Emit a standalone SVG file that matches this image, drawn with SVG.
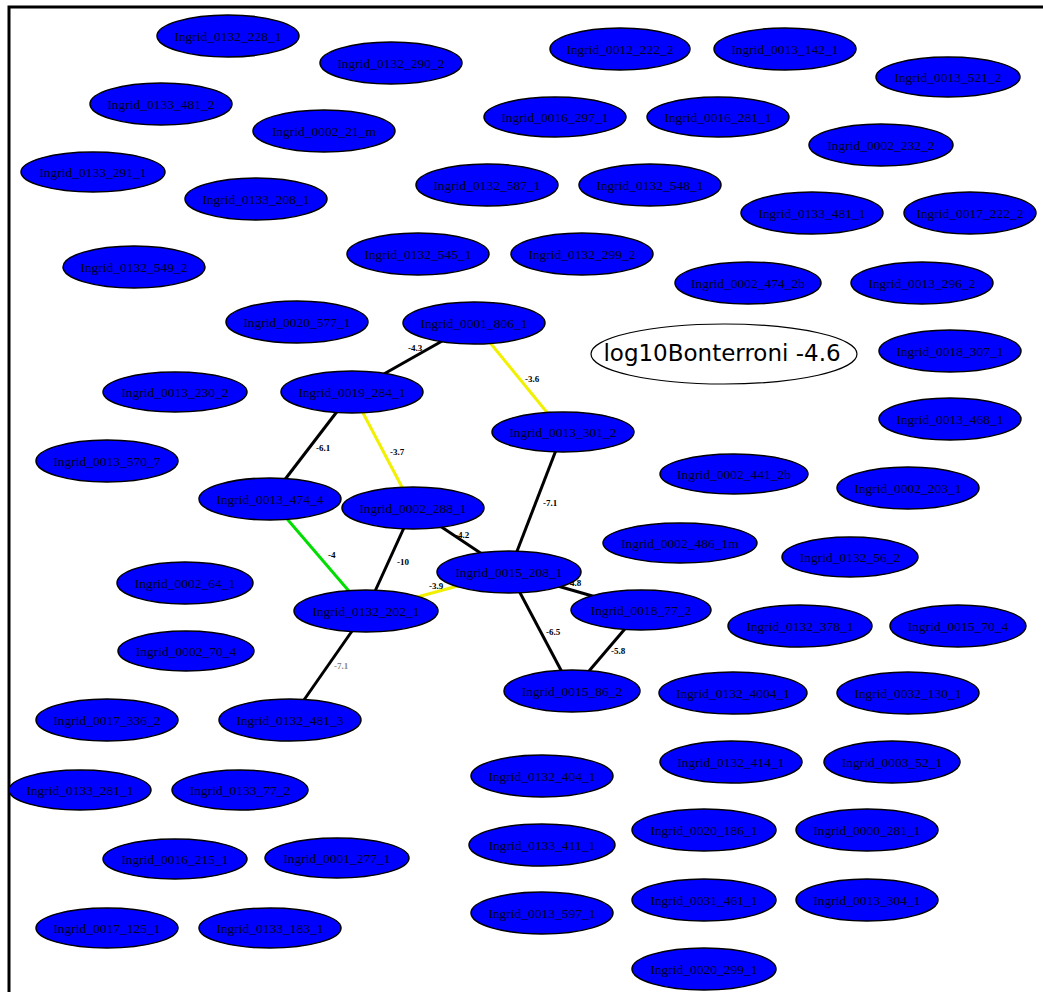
<svg xmlns="http://www.w3.org/2000/svg" width="1043" height="992" viewBox="0 0 1043 992">
  <style>
    .node ellipse { fill: #0000ff; stroke: #000000; stroke-width: 1.5; }
    .node text { font-family: "Liberation Serif", "Times New Roman", serif; font-size: 13.5px; fill: #000022; text-anchor: middle; dominant-baseline: central; }
    .edge { stroke-width: 3; fill: none; }
    .black { stroke: #000000; }
    .yellow { stroke: #f0f000; }
    .green { stroke: #00dd00; }
    .elabel { font-family: "Liberation Serif", "Times New Roman", serif; font-size: 9px; font-weight: bold; fill: #000000; }
    .legend ellipse { fill: #ffffff; stroke: #000000; stroke-width: 1.2; }
    .legend text { font-family: "DejaVu Sans", "Liberation Sans", sans-serif; font-size: 23px; fill: #000000; text-anchor: middle; dominant-baseline: central; }
  </style>

  <rect x="0" y="0" width="1043" height="992" fill="#ffffff"/>
  <!-- frame -->
  <path d="M9,992 V7 H1043" fill="none" stroke="#000000" stroke-width="3"/>

  <!-- connectors -->
  <g id="connectors">
    <line class="edge black" x1="474" y1="323" x2="352" y2="392"/>
    <line class="edge yellow" x1="474" y1="323" x2="563" y2="432"/>
    <line class="edge yellow" x1="352" y1="392" x2="413" y2="508"/>
    <line class="edge black" x1="352" y1="392" x2="270" y2="499"/>
    <line class="edge black" x1="563" y1="432" x2="509" y2="572"/>
    <line class="edge black" x1="413" y1="508" x2="509" y2="572"/>
    <line class="edge black" x1="413" y1="508" x2="366" y2="611"/>
    <line class="edge green" x1="270" y1="499" x2="366" y2="611"/>
    <line class="edge yellow" x1="509" y1="572" x2="366" y2="611"/>
    <line class="edge black" x1="509" y1="572" x2="641" y2="610"/>
    <line class="edge black" x1="509" y1="572" x2="572" y2="691"/>
    <line class="edge black" x1="641" y1="610" x2="572" y2="691"/>
    <line class="edge black" x1="366" y1="611" x2="290" y2="720"/>

    <text class="elabel" x="408" y="351">-4.3</text>
    <text class="elabel" x="525" y="382">-3.6</text>
    <text class="elabel" x="316" y="451">-6.1</text>
    <text class="elabel" x="390" y="455">-3.7</text>
    <text class="elabel" x="543" y="506">-7.1</text>
    <text class="elabel" x="455" y="538">-4.2</text>
    <text class="elabel" x="397" y="565">-10</text>
    <text class="elabel" x="328" y="558">-4</text>
    <text class="elabel" x="429" y="589">-3.9</text>
    <text class="elabel" x="567" y="586">-4.8</text>
    <text class="elabel" x="546" y="635">-6.5</text>
    <text class="elabel" x="611" y="654">-5.8</text>
    <text class="elabel" x="334" y="669" style="fill:#888888">-7.1</text>
  </g>

  <!-- legend -->
  <g id="legend" class="legend">
    <ellipse cx="724" cy="354" rx="133" ry="30"/>
    <text x="722" y="353">log10Bonterroni -4.6</text>
  </g>

  <!-- nodes -->
  <g id="n1" class="node"><ellipse cx="228" cy="36" rx="71" ry="21"/><text x="228" y="36">Ingrid_0132_228_1</text></g>
  <g id="n2" class="node"><ellipse cx="391" cy="63" rx="71" ry="21"/><text x="391" y="63">Ingrid_0132_290_2</text></g>
  <g id="n3" class="node"><ellipse cx="620" cy="49" rx="70" ry="21"/><text x="620" y="49">Ingrid_0012_222_2</text></g>
  <g id="n4" class="node"><ellipse cx="785" cy="49" rx="71" ry="21"/><text x="785" y="49">Ingrid_0013_142_1</text></g>
  <g id="n5" class="node"><ellipse cx="948" cy="77" rx="72" ry="20"/><text x="948" y="77">Ingrid_0013_521_2</text></g>
  <g id="n6" class="node"><ellipse cx="161" cy="104" rx="71" ry="21"/><text x="161" y="104">Ingrid_0133_481_2</text></g>
  <g id="n7" class="node"><ellipse cx="324" cy="131" rx="71" ry="21"/><text x="324" y="131">Ingrid_0002_21_m</text></g>
  <g id="n8" class="node"><ellipse cx="555" cy="117" rx="71" ry="20"/><text x="555" y="117">Ingrid_0016_297_1</text></g>
  <g id="n9" class="node"><ellipse cx="718" cy="117" rx="71" ry="20"/><text x="718" y="117">Ingrid_0016_281_1</text></g>
  <g id="n10" class="node"><ellipse cx="881" cy="145" rx="72" ry="21"/><text x="881" y="145">Ingrid_0002_232_2</text></g>
  <g id="n11" class="node"><ellipse cx="93" cy="172" rx="72" ry="20"/><text x="93" y="172">Ingrid_0133_291_1</text></g>
  <g id="n12" class="node"><ellipse cx="256" cy="199" rx="71" ry="21"/><text x="256" y="199">Ingrid_0133_208_1</text></g>
  <g id="n13" class="node"><ellipse cx="487" cy="185" rx="71" ry="21"/><text x="487" y="185">Ingrid_0132_587_1</text></g>
  <g id="n14" class="node"><ellipse cx="650" cy="185" rx="71" ry="21"/><text x="650" y="185">Ingrid_0132_548_1</text></g>
  <g id="n15" class="node"><ellipse cx="812" cy="213" rx="71" ry="21"/><text x="812" y="213">Ingrid_0133_481_1</text></g>
  <g id="n16" class="node"><ellipse cx="970" cy="213" rx="66" ry="21"/><text x="970" y="213">Ingrid_0017_222_2</text></g>
  <g id="n17" class="node"><ellipse cx="134" cy="267" rx="71" ry="21"/><text x="134" y="267">Ingrid_0132_549_2</text></g>
  <g id="n18" class="node"><ellipse cx="418" cy="254" rx="71" ry="21"/><text x="418" y="254">Ingrid_0132_545_1</text></g>
  <g id="n19" class="node"><ellipse cx="582" cy="254" rx="71" ry="21"/><text x="582" y="254">Ingrid_0132_299_2</text></g>
  <g id="n20" class="node"><ellipse cx="748" cy="283" rx="73" ry="21"/><text x="748" y="283">Ingrid_0002_474_2b</text></g>
  <g id="n21" class="node"><ellipse cx="922" cy="283" rx="71" ry="21"/><text x="922" y="283">Ingrid_0013_296_2</text></g>
  <g id="n22" class="node"><ellipse cx="297" cy="322" rx="71" ry="21"/><text x="297" y="322">Ingrid_0020_577_1</text></g>
  <g id="n23" class="node"><ellipse cx="474" cy="323" rx="71" ry="21"/><text x="474" y="323">Ingrid_0001_806_1</text></g>
  <g id="n25" class="node"><ellipse cx="352" cy="392" rx="71" ry="21"/><text x="352" y="392">Ingrid_0019_284_1</text></g>
  <g id="n26" class="node"><ellipse cx="175" cy="392" rx="72" ry="20"/><text x="175" y="392">Ingrid_0013_230_2</text></g>
  <g id="n27" class="node"><ellipse cx="563" cy="432" rx="71" ry="20"/><text x="563" y="432">Ingrid_0013_301_2</text></g>
  <g id="n28" class="node"><ellipse cx="950" cy="351" rx="71" ry="21"/><text x="950" y="351">Ingrid_0018_307_1</text></g>
  <g id="n29" class="node"><ellipse cx="950" cy="419" rx="71" ry="21"/><text x="950" y="419">Ingrid_0013_468_1</text></g>
  <g id="n30" class="node"><ellipse cx="107" cy="461" rx="71" ry="21"/><text x="107" y="461">Ingrid_0013_570_7</text></g>
  <g id="n31" class="node"><ellipse cx="734" cy="474" rx="74" ry="20"/><text x="734" y="474">Ingrid_0002_441_2b</text></g>
  <g id="n32" class="node"><ellipse cx="908" cy="488" rx="71" ry="21"/><text x="908" y="488">Ingrid_0002_203_1</text></g>
  <g id="n33" class="node"><ellipse cx="270" cy="499" rx="71" ry="21"/><text x="270" y="499">Ingrid_0013_474_4</text></g>
  <g id="n34" class="node"><ellipse cx="413" cy="508" rx="71" ry="21"/><text x="413" y="508">Ingrid_0002_288_1</text></g>
  <g id="n35" class="node"><ellipse cx="680" cy="543" rx="77" ry="20"/><text x="680" y="543">Ingrid_0002_486_1m</text></g>
  <g id="n36" class="node"><ellipse cx="850" cy="557" rx="68" ry="20"/><text x="850" y="557">Ingrid_0132_56_2</text></g>
  <g id="n37" class="node"><ellipse cx="509" cy="572" rx="72" ry="21"/><text x="509" y="572">Ingrid_0015_208_1</text></g>
  <g id="n38" class="node"><ellipse cx="185" cy="583" rx="68" ry="21"/><text x="185" y="583">Ingrid_0002_64_1</text></g>
  <g id="n39" class="node"><ellipse cx="366" cy="611" rx="72" ry="21"/><text x="366" y="611">Ingrid_0132_202_1</text></g>
  <g id="n40" class="node"><ellipse cx="641" cy="610" rx="70" ry="20"/><text x="641" y="610">Ingrid_0018_77_2</text></g>
  <g id="n41" class="node"><ellipse cx="800" cy="626" rx="72" ry="21"/><text x="800" y="626">Ingrid_0132_378_1</text></g>
  <g id="n42" class="node"><ellipse cx="958" cy="626" rx="68" ry="21"/><text x="958" y="626">Ingrid_0015_70_4</text></g>
  <g id="n43" class="node"><ellipse cx="186" cy="651" rx="68" ry="20"/><text x="186" y="651">Ingrid_0002_70_4</text></g>
  <g id="n44" class="node"><ellipse cx="572" cy="691" rx="68" ry="21"/><text x="572" y="691">Ingrid_0015_86_2</text></g>
  <g id="n45" class="node"><ellipse cx="733" cy="693" rx="74" ry="21"/><text x="733" y="693">Ingrid_0132_4004_1</text></g>
  <g id="n46" class="node"><ellipse cx="908" cy="693" rx="71" ry="21"/><text x="908" y="693">Ingrid_0032_130_1</text></g>
  <g id="n47" class="node"><ellipse cx="107" cy="720" rx="71" ry="21"/><text x="107" y="720">Ingrid_0017_336_2</text></g>
  <g id="n48" class="node"><ellipse cx="290" cy="720" rx="71" ry="21"/><text x="290" y="720">Ingrid_0132_481_3</text></g>
  <g id="n49" class="node"><ellipse cx="542" cy="776" rx="71" ry="21"/><text x="542" y="776">Ingrid_0132_404_1</text></g>
  <g id="n50" class="node"><ellipse cx="731" cy="762" rx="71" ry="21"/><text x="731" y="762">Ingrid_0132_414_1</text></g>
  <g id="n51" class="node"><ellipse cx="892" cy="762" rx="68" ry="21"/><text x="892" y="762">Ingrid_0003_52_1</text></g>
  <g id="n52" class="node"><ellipse cx="80" cy="790" rx="71" ry="20"/><text x="80" y="790">Ingrid_0133_281_1</text></g>
  <g id="n53" class="node"><ellipse cx="240" cy="790" rx="68" ry="20"/><text x="240" y="790">Ingrid_0133_77_2</text></g>
  <g id="n54" class="node"><ellipse cx="542" cy="845" rx="73" ry="21"/><text x="542" y="845">Ingrid_0133_411_1</text></g>
  <g id="n55" class="node"><ellipse cx="704" cy="830" rx="72" ry="21"/><text x="704" y="830">Ingrid_0020_186_1</text></g>
  <g id="n56" class="node"><ellipse cx="867" cy="830" rx="71" ry="21"/><text x="867" y="830">Ingrid_0000_281_1</text></g>
  <g id="n57" class="node"><ellipse cx="175" cy="859" rx="72" ry="20"/><text x="175" y="859">Ingrid_0016_215_1</text></g>
  <g id="n58" class="node"><ellipse cx="337" cy="858" rx="72" ry="20"/><text x="337" y="858">Ingrid_0001_277_1</text></g>
  <g id="n59" class="node"><ellipse cx="542" cy="913" rx="71" ry="21"/><text x="542" y="913">Ingrid_0013_597_1</text></g>
  <g id="n60" class="node"><ellipse cx="704" cy="900" rx="72" ry="21"/><text x="704" y="900">Ingrid_0031_461_1</text></g>
  <g id="n61" class="node"><ellipse cx="867" cy="900" rx="71" ry="21"/><text x="867" y="900">Ingrid_0013_304_1</text></g>
  <g id="n62" class="node"><ellipse cx="107" cy="928" rx="71" ry="20"/><text x="107" y="928">Ingrid_0017_125_1</text></g>
  <g id="n63" class="node"><ellipse cx="270" cy="928" rx="71" ry="20"/><text x="270" y="928">Ingrid_0133_183_1</text></g>
  <g id="n64" class="node"><ellipse cx="704" cy="969" rx="72" ry="21"/><text x="704" y="969">Ingrid_0020_299_1</text></g>
</svg>
